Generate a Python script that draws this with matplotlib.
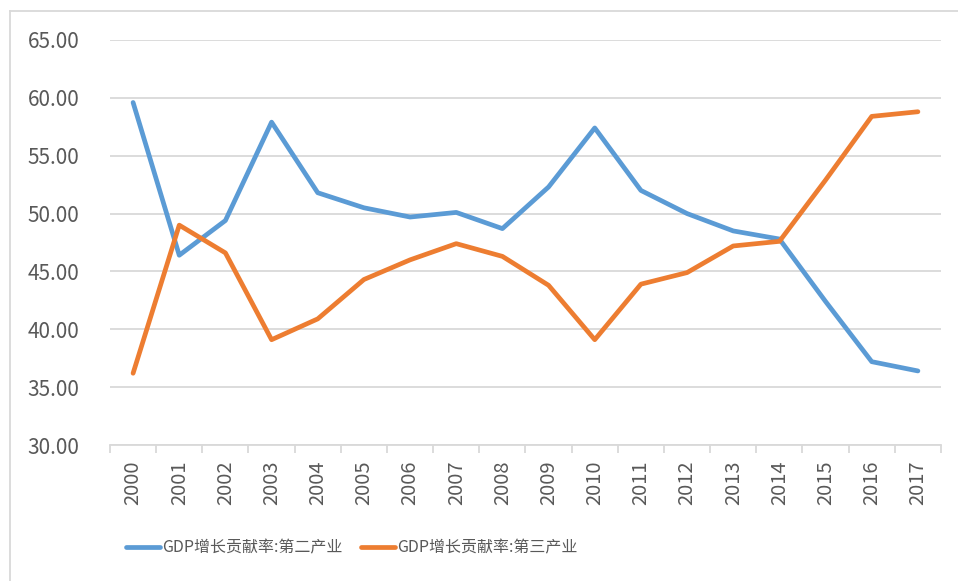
import numpy as np
import matplotlib
matplotlib.use("Agg")
import matplotlib.pyplot as plt
from matplotlib.lines import Line2D

plt.rcParams['font.family'] = ['Noto Sans CJK SC', 'DejaVu Sans']

years = [str(y) for y in range(2000, 2018)]
secondary = [59.6, 46.4, 49.4, 57.9, 51.8, 50.5, 49.7, 50.1, 48.7, 52.3,
             57.4, 52.0, 50.0, 48.5, 47.8, 42.4, 37.2, 36.4]
tertiary = [36.2, 49.0, 46.6, 39.1, 40.9, 44.3, 46.0, 47.4, 46.3, 43.8,
            39.1, 43.9, 44.9, 47.2, 47.6, 52.9, 58.4, 58.8]
labels = ['GDP增长贡献率:第二产业', 'GDP增长贡献率:第三产业']
y_ticks = np.arange(30, 66, 5)

blue = '#5B9BD5'
orange = '#ED7D31'
grid_c = '#D9D9D9'
text_c = '#595959'

fig = plt.figure(figsize=(9.58, 5.81), dpi=100)
ax = fig.add_axes([110 / 958, 1 - 445 / 581, 831 / 958, 405 / 581])

x = np.arange(len(years))
ax.plot(x, secondary, color=blue, lw=3.4, label=labels[0], solid_capstyle='round')
ax.plot(x, tertiary, color=orange, lw=3.4, label=labels[1], solid_capstyle='round')

ax.set_xlim(-0.5, len(years) - 0.5)
ax.set_ylim(30, 65)
ax.set_yticks(y_ticks)
ax.set_yticklabels([f'{v:.2f}' for v in y_ticks], fontsize=15, color=text_c)
ax.set_xticks(x)
ax.set_xticklabels(years, rotation=90, fontsize=14.5, color=text_c)
ax.set_xticks(np.arange(-0.5, len(years)), minor=True)

ax.grid(axis='y', color=grid_c, lw=1.3)
ax.set_axisbelow(True)
for s in ['top', 'right', 'left']:
    ax.spines[s].set_visible(False)
ax.spines['bottom'].set_color(grid_c)
ax.spines['bottom'].set_linewidth(1.3)
ax.tick_params(axis='y', length=0, pad=22)
ax.tick_params(axis='x', which='major', length=0, pad=11)
ax.tick_params(axis='x', which='minor', length=6, color=grid_c, width=1.3)

fig.legend(loc='center left', bbox_to_anchor=(126 / 958, 1 - 548 / 581), ncol=2,
           frameon=False, borderpad=0, borderaxespad=0,
           fontsize=11.5, labelcolor=text_c, handlelength=2.1, handletextpad=0.15,
           columnspacing=1.2)

# chart area border (top and left visible)
fig.add_artist(Line2D([10 / 958, 10 / 958], [0, 1 - 11 / 581], color=grid_c, lw=1.3))
fig.add_artist(Line2D([10 / 958, 1], [1 - 11 / 581, 1 - 11 / 581], color=grid_c, lw=1.3))

fig.savefig('out.png', dpi=100, facecolor='white')
